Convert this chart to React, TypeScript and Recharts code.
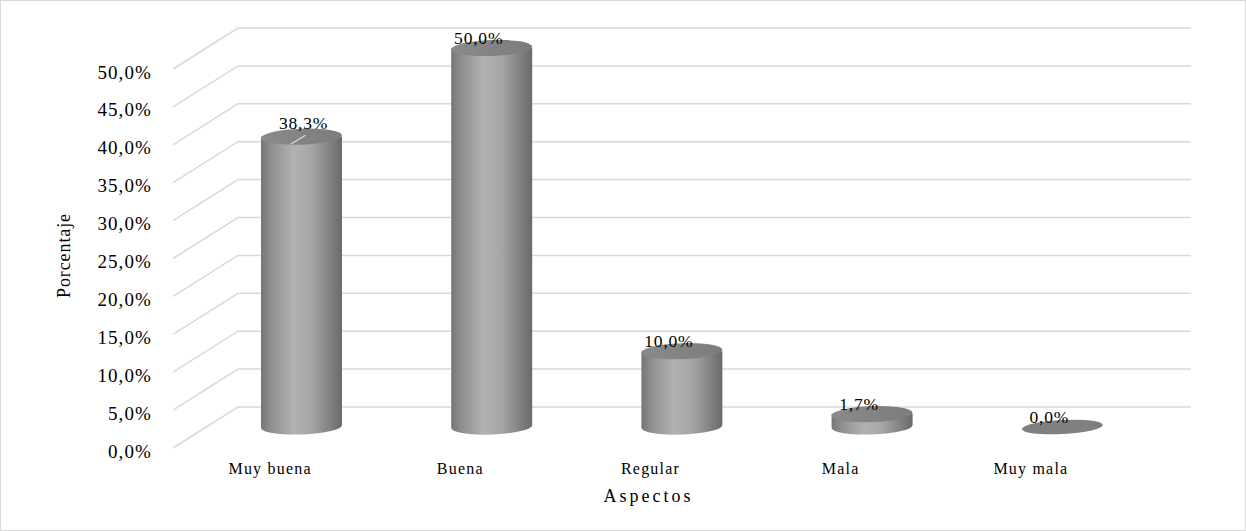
import React from 'react';
import { BarChart, Bar, XAxis, YAxis, CartesianGrid, LabelList } from 'recharts';

// Valores
const categories = ['Muy buena', 'Buena', 'Regular', 'Mala', 'Muy mala'];
const percentages = [38.3, 50.0, 10.0, 1.7, 0.0];
const yTicks = [0, 5, 10, 15, 20, 25, 30, 35, 40, 45, 50];

const data = categories.map((name, i) => ({ name, value: percentages[i] }));

const FONT = '"Liberation Serif", "Times New Roman", serif';
const fmt = (v: number) => v.toFixed(1).replace('.', ',') + '%';

// depth offsets for the pseudo 3D floor / back wall
const FRONT_DX = -33;
const FRONT_DY = 21;
const BACK_DX = 32;
const BACK_DY = -20;

const renderGridLine = (props: any) => {
  const { x1, x2, y1, key } = props;
  const fx = x1 + FRONT_DX;
  const fy = y1 + FRONT_DY;
  const bx = x1 + BACK_DX;
  const by = y1 + BACK_DY;
  return (
    <polyline
      key={key}
      points={`${fx},${fy} ${bx},${by} ${x2 + 34},${by}`}
      fill="none"
      stroke="#d9d9d9"
      strokeWidth={1.5}
    />
  );
};

const YTick = (props: any) => {
  const { y, payload } = props;
  return (
    <text
      x={151}
      y={y + FRONT_DY + 3}
      textAnchor="end"
      dominantBaseline="central"
      fontFamily={FONT}
      fontSize={19}
      letterSpacing={1.1}
      fill="#000"
    >
      {fmt(payload.value)}
    </text>
  );
};

const XTick = (props: any) => {
  const { x, payload } = props;
  return (
    <text
      x={x + FRONT_DX + 2}
      y={467}
      textAnchor="middle"
      dominantBaseline="central"
      fontFamily={FONT}
      fontSize={16}
      letterSpacing={1.2}
      fill="#000"
    >
      {payload.value}
    </text>
  );
};

const Cylinder = (props: any) => {
  const { x, y, width, height, index } = props;
  const rx = width / 2;
  const ry = 8;
  const cx = x + rx;
  const top = y;
  const bottom = y + height;
  if (height < 0.5) {
    return (
      <ellipse
        cx={cx}
        cy={bottom}
        rx={rx}
        ry={7}
        fill="#808080"
        transform={`rotate(-3, ${cx}, ${bottom})`}
      />
    );
  }
  const body = `M ${x},${top} L ${x},${bottom + 1} A ${rx},${ry} -2 0 0 ${x + width},${bottom - 2} L ${x + width},${top} Z`;
  return (
    <g key={`cyl-${index}`}>
      <path d={body} fill="url(#cylSide)" />
      <ellipse
        cx={cx}
        cy={top}
        rx={rx}
        ry={ry}
        fill="url(#cylTop)"
        transform={`rotate(-2, ${cx}, ${top})`}
      />
    </g>
  );
};

const ValueLabel = (props: any) => {
  const { x, y, width, height, value, index } = props;
  const cx = x + width / 2;
  const top = y + (height < 0 ? height : 0);
  const common = {
    fontFamily: FONT,
    fontSize: 17.5,
    letterSpacing: 0.8,
    fill: '#000',
    textAnchor: 'middle' as const,
    dominantBaseline: 'central' as const,
  };
  if (index === 0) {
    return (
      <g>
        <line x1={cx - 11} y1={top + 7.5} x2={cx + 4} y2={top - 1.5} stroke="#d9d9d9" strokeWidth={1.2} />
        <text x={cx + 2} y={top - 14} {...common}>{fmt(value)}</text>
      </g>
    );
  }
  return (
    <text x={cx - 13} y={top - 10} {...common}>{fmt(value)}</text>
  );
};

export default function App() {
  return (
    <div
      style={{
        position: 'absolute',
        left: 0,
        top: 0,
        width: 1246,
        height: 531,
        background: '#fff',
        boxSizing: 'border-box',
        border: '1.5px solid #d9d9d9',
      }}
    >
      <BarChart
        width={1243}
        height={528}
        data={data}
        margin={{ top: 47, right: 87, bottom: 22, left: 55 }}
      >
        <defs>
          <linearGradient id="cylSide" x1="0" y1="0" x2="1" y2="0">
            <stop offset="0%" stopColor="#767676" />
            <stop offset="12%" stopColor="#8e8e8e" />
            <stop offset="40%" stopColor="#b2b2b2" />
            <stop offset="62%" stopColor="#a6a6a6" />
            <stop offset="85%" stopColor="#828282" />
            <stop offset="100%" stopColor="#6a6a6a" />
          </linearGradient>
          <linearGradient id="cylTop" x1="0" y1="0" x2="1" y2="0">
            <stop offset="0%" stopColor="#8a8a8a" />
            <stop offset="100%" stopColor="#7c7c7c" />
          </linearGradient>
        </defs>
        <CartesianGrid vertical={false} horizontal={renderGridLine} />
        <XAxis
          dataKey="name"
          axisLine={false}
          tickLine={false}
          height={80}
          tick={<XTick />}
          label={(p: any) => {
            const vb = p.viewBox;
            return (
              <text
                x={vb.x + vb.width / 2 - 33}
                y={495}
                textAnchor="middle"
                dominantBaseline="central"
                fontFamily={FONT}
                fontSize={18}
                letterSpacing={3}
                fill="#000"
              >
                Aspectos
              </text>
            );
          }}
        />
        <YAxis
          domain={[0, 50]}
          ticks={yTicks}
          axisLine={false}
          tickLine={false}
          width={150}
          tick={<YTick />}
          label={(p: any) => {
            const vb = p.viewBox;
            const lx = 63;
            const ly = vb.y + vb.height / 2 + 18;
            return (
              <text
                x={lx}
                y={ly}
                transform={`rotate(-90, ${lx}, ${ly})`}
                textAnchor="middle"
                dominantBaseline="central"
                fontFamily={FONT}
                fontSize={18}
                letterSpacing={0.9}
                fill="#000"
              >
                Porcentaje
              </text>
            );
          }}
        />
        <Bar dataKey="value" barSize={81} shape={<Cylinder />} isAnimationActive={false}>
          <LabelList dataKey="value" content={<ValueLabel />} />
        </Bar>
      </BarChart>
    </div>
  );
}
